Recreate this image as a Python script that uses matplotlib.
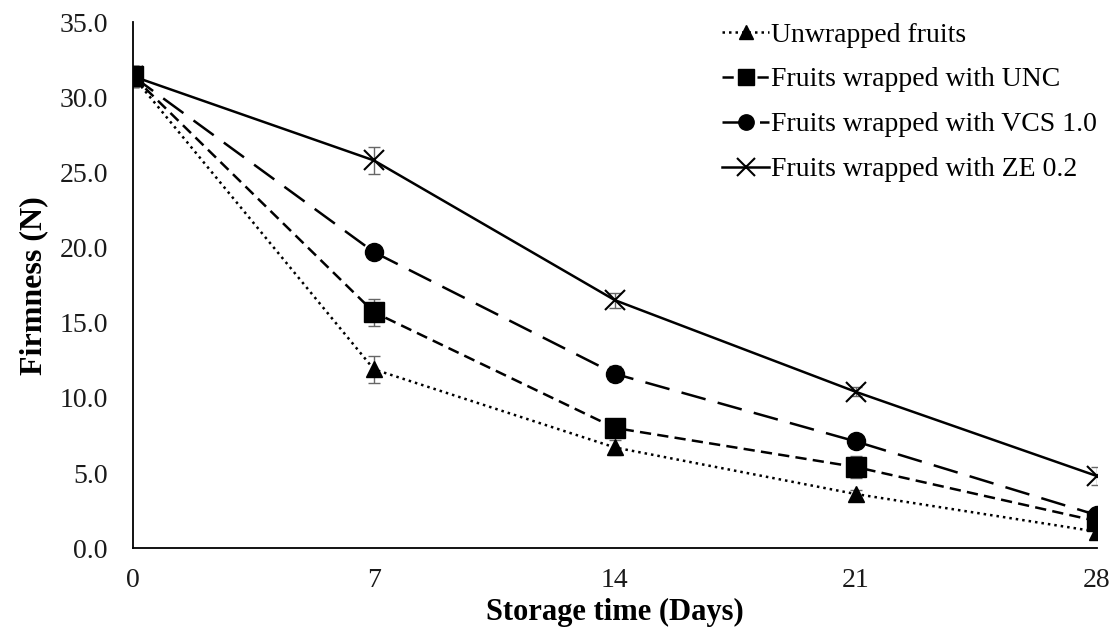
import matplotlib
matplotlib.use("Agg")
import matplotlib.pyplot as plt

days = [0, 7, 14, 21, 28]
y_ticks = [0, 5, 10, 15, 20, 25, 30, 35]

labels = [
    "Unwrapped fruits",
    "Fruits wrapped with UNC",
    "Fruits wrapped with VCS 1.0",
    "Fruits wrapped with ZE 0.2",
]
unwrapped = [31.4, 11.9, 6.7, 3.6, 1.1]
unwrapped_err = [0.7, 0.9, 0.5, 0.3, 0.5]
unc = [31.4, 15.7, 8.0, 5.4, 1.8]
unc_err = [0.7, 0.9, 0.4, 0.7, 0.5]
vcs = [31.4, 19.7, 11.6, 7.1, 2.2]
vcs_err = [0.7, 0.4, 0.5, 0.3, 0.4]
ze = [31.4, 25.8, 16.5, 10.4, 4.8]
ze_err = [0.7, 0.9, 0.5, 0.3, 0.6]

plt.rcParams["font.family"] = ["Liberation Serif", "DejaVu Serif"]

fig = plt.figure(figsize=(11.17, 6.33), dpi=100)
ax = fig.add_axes([0.119, 0.134, 0.863, 0.831])

# (values, errors, linestyle, marker, markersize, zorder)
series = [
    (unwrapped, unwrapped_err, (0, (1, 1.6)), "^", 12, 3),
    (unc, unc_err, (0, (4.5, 2.5)), "s", 14, 5),
    (vcs, vcs_err, (0, (10, 5)), "o", 13, 3),
    (ze, ze_err, "-", "x", 15, 3),
]
for (vals, errs, ls, marker, ms, z), label in zip(series, labels):
    ax.errorbar(days, vals, yerr=errs, fmt="none", ecolor="#666666",
                elinewidth=1.0, capsize=4, capthick=1.0, zorder=2)
    ax.plot(days, vals, linestyle=ls, color="black", linewidth=1.8,
            marker=marker, markersize=ms,
            markeredgewidth=1.5 if marker == "x" else 1,
            markerfacecolor="black", markeredgecolor="black",
            label=label, zorder=z)

ax.set_xlim(0, 28)
ax.set_ylim(0, 35)
ax.set_xticks(days)
ax.set_yticks(y_ticks)
ax.set_yticklabels([f"{v:.1f}" for v in y_ticks])
ax.tick_params(axis="both", length=0, labelsize=20, colors="#1a1a1a")
ax.tick_params(axis="x", pad=14)
ax.tick_params(axis="y", pad=18)
for side in ["top", "right"]:
    ax.spines[side].set_visible(False)
for side in ["left", "bottom"]:
    ax.spines[side].set_linewidth(1.3)

ax.set_xlabel("Storage time (Days)", fontsize=22, fontweight="bold", labelpad=4)
ax.set_ylabel("Firmness (N)", fontsize=23, fontweight="bold", labelpad=8)

ax.legend(loc="upper left", bbox_to_anchor=(0.611, 1.0), frameon=False,
          fontsize=20, handlelength=1.7, handletextpad=0.05,
          labelspacing=0.7, markerscale=0.85, borderpad=0, borderaxespad=0)

fig.savefig("out.png", dpi=100)
